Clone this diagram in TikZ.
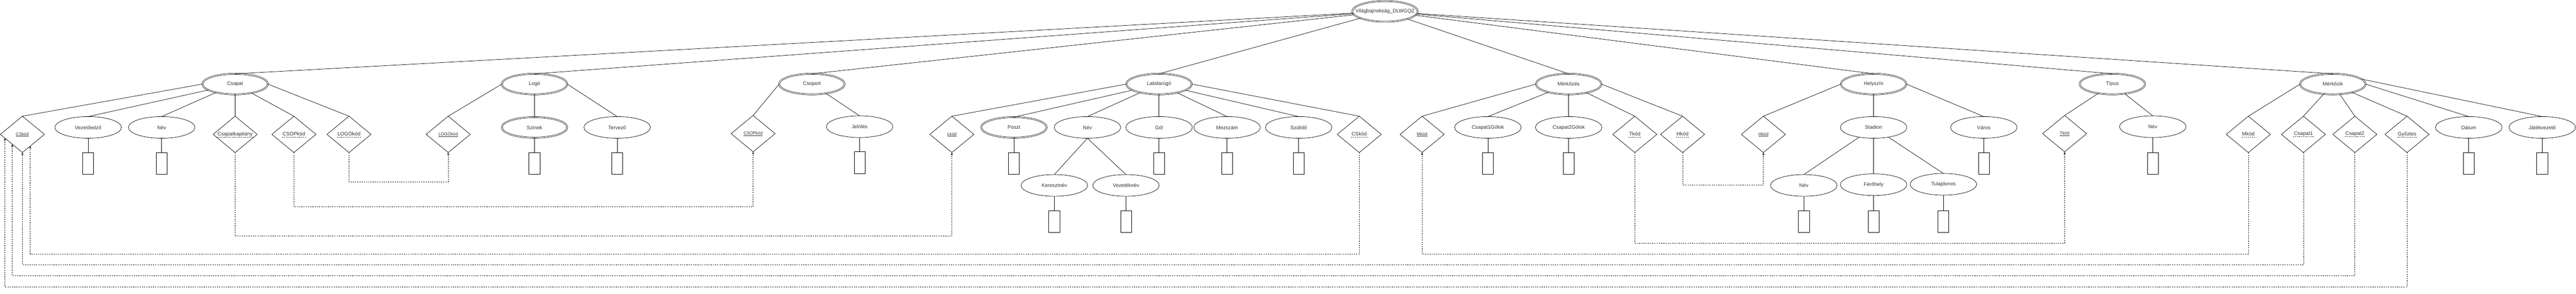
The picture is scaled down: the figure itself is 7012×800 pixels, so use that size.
\documentclass[tikz,border=0pt]{standalone}
\usepackage{fontspec}
\setmainfont{Liberation Sans}
\usetikzlibrary{shapes.geometric,arrows.meta}
\newcommand\zw[1]{\makebox[0pt]{#1}}
\newcommand\pk[1]{\makebox[0pt]{\fontsize{11.7}{14}\selectfont\underline{#1}}}
\newcommand\fk[1]{\makebox[0pt]{\setbox0=\hbox{#1}\kern-3pt\rlap{\raisebox{-4.5pt}{\hbox to \dimexpr\wd0+6pt\relax{\xleaders\hbox to 5pt{\hss\vrule width 3pt height 0.8pt depth 0pt\hss}\hfill}}}\kern3pt\box0}}
\tikzset{
  base/.style={draw, line width=1pt, inner sep=0pt, outer sep=0pt, font=\fontsize{13.8}{16}\selectfont, text=black!80},
  ent/.style={base, ellipse, minimum width=178, minimum height=56, double, double distance=2pt},
  attr/.style={base, ellipse, minimum width=181, minimum height=59},
  mattr/.style={base, ellipse, minimum width=178, minimum height=56, double, double distance=2pt},
  keyd/.style={base, diamond, minimum width=120, minimum height=99},
  fkd/.style={base, diamond, minimum width=120, minimum height=99},
  dom/.style={base, rectangle, minimum width=30, minimum height=59},
  link/.style={line width=1pt},
  fkline/.style={line width=1pt, dash pattern=on 3pt off 3pt, -{Stealth[length=7pt,width=5.5pt]}},
}
\begin{document}
\begin{tikzpicture}[x=1pt,y=-1pt]
\useasboundingbox[fill=white] (0,0) rectangle (7012,800);
% root
\node[ent] (root) at (3770,31) {\zw{Világbajnokság\_DLWGQZ}};
% entities
\node[ent] (csapat) at (640,229) {\zw{Csapat}};
\node[ent] (logo) at (1455,229) {\zw{Logó}};
\node[ent] (csoport) at (2210,229) {\zw{Csoport}};
\node[ent] (labda) at (3155,229) {\zw{Labdarúgó}};
\node[ent] (merk) at (4270,229) {\zw{Mérkőzés}};
\node[ent] (hely) at (5100,229) {\zw{Helyszín}};
\node[ent] (tipus) at (5750,229) {\zw{Típus}};
\node[ent] (merkozik) at (6350,229) {\zw{Mérkőzik}};
% Csapat
\node[keyd] (cskey) at (61,366) {\pk{CSkód}};
\node[attr] (vezedzo) at (240,347) {\zw{Vezetőedző}};
\node[attr] (nev1) at (440,347) {\zw{Név}};
\node[fkd] (kapitany) at (640,366) {\fk{Csapatkapitány}};
\node[fkd] (csopfk) at (800,366) {\fk{CSOPkód}};
\node[fkd] (logofk) at (950,366) {\fk{LOGÓkód}};
\node[dom] (dvezedzo) at (240,445.5) {};
\node[dom] (dnev1) at (440,445.5) {};
% Logo
\node[keyd] (logokey) at (1220,366) {\pk{LOGÓkód}};
\node[mattr] (szinek) at (1455,347) {\zw{Színek}};
\node[attr] (tervezo) at (1680,347) {\zw{Tervező}};
\node[dom] (dszinek) at (1455,445.5) {};
\node[dom] (dtervezo) at (1680,445.5) {};
% Csoport
\node[keyd] (csopkey) at (2050,364) {\pk{CSOPkód}};
\node[attr] (jeloles) at (2340,345) {\zw{Jelölés}};
\node[dom] (djeloles) at (2340,443) {};
% Labdarugo
\node[keyd] (lkod) at (2591,366) {\pk{Lkód}};
\node[mattr] (poszt) at (2760,347) {\zw{Poszt}};
\node[attr] (nev2) at (2960,347) {\zw{Név}};
\node[attr] (gol) at (3155,347) {\zw{Gól}};
\node[attr] (mezszam) at (3340,347) {\zw{Mezszám}};
\node[attr] (szulido) at (3535,347) {\zw{Szülidő}};
\node[fkd] (cskodfk) at (3700,366) {\fk{CSkód}};
\node[attr] (kereszt) at (2870,505) {\zw{Keresztnév}};
\node[attr] (vezetek) at (3065,505) {\zw{Vezetéknév}};
\node[dom] (dposzt) at (2760,445.5) {};
\node[dom] (dgol) at (3155,445.5) {};
\node[dom] (dmezszam) at (3340,445.5) {};
\node[dom] (dszulido) at (3535,445.5) {};
\node[dom] (dkereszt) at (2870,603.5) {};
\node[dom] (dvezetek) at (3065,603.5) {};
% Merkozes
\node[keyd] (mkey) at (3871,366) {\pk{Mkód}};
\node[attr] (c1g) at (4050,347) {\zw{Csapat1Gólok}};
\node[attr] (c2g) at (4270,347) {\zw{Csapat2Gólok}};
\node[fkd] (tkodfk) at (4450,366) {\fk{Tkód}};
\node[fkd] (hkodfk) at (4580,366) {\fk{Hkód}};
\node[dom] (dc1g) at (4050,445.5) {};
\node[dom] (dc2g) at (4270,445.5) {};
% Helyszin
\node[keyd] (hkey) at (4800,366) {\pk{Hkód}};
\node[attr] (stadion) at (5100,347) {\zw{Stadion}};
\node[attr] (varos) at (5400,347) {\zw{Város}};
\node[attr] (nev3) at (4910,505) {\zw{Név}};
\node[attr] (ferohely) at (5100,503) {\zw{Férőhely}};
\node[attr] (tulaj) at (5290,502) {\zw{Tulajdonos}};
\node[dom] (dvaros) at (5400,445.5) {};
\node[dom] (dnev3) at (4910,603.5) {};
\node[dom] (dferohely) at (5100,603.5) {};
\node[dom] (dtulaj) at (5290,603.5) {};
% Tipus
\node[keyd] (tkey) at (5620,364) {\pk{Tkód}};
\node[attr] (nev4) at (5860,345) {\zw{Név}};
\node[dom] (dnev4) at (5860,445.5) {};
% Merkozik
\node[fkd] (mkodfk) at (6120,366) {\fk{Mkód}};
\node[fkd] (cs1) at (6270,366) {\fk{Csapat1}};
\node[fkd] (cs2) at (6410,366) {\fk{Csapat2}};
\node[fkd] (gyoztes) at (6552,366) {\fk{Győztes}};
\node[attr] (datum) at (6720,347) {\zw{Dátum}};
\node[attr] (jatekv) at (6920,347) {\zw{Játékvezető}};
\node[dom] (ddatum) at (6720,445.5) {};
\node[dom] (djatekv) at (6920,445.5) {};
% levels
\coordinate (lv495) at (0,495);
\coordinate (lv504) at (0,504);
\coordinate (lv563) at (0,563);
\coordinate (lv643) at (0,643);
\coordinate (lv662) at (0,662);
\coordinate (lv692) at (0,692);
\coordinate (lv721) at (0,721);
\coordinate (lv751) at (0,751);
\coordinate (lv781) at (0,781);
% root links
\foreach \e in {csapat,logo,csoport,labda,merk,hely,tipus,merkozik}
  \draw[link] (root) -- (\e.north);
% entity links
\draw[link] (csapat.west) -- (cskey.north);
\draw[link] (csapat) -- (vezedzo.north);
\draw[link] (csapat) -- (nev1.north);
\draw[link] (csapat.south) -- (kapitany.north);
\draw[link] (csapat) -- (csopfk.north);
\draw[link] (csapat.east) -- (logofk.north);
\draw[link] (logo.west) -- (logokey.north);
\draw[link] (logo.south) -- (szinek.north);
\draw[link] (logo.east) -- (tervezo.north);
\draw[link] (csoport.west) -- (csopkey.north);
\draw[link] (csoport) -- (jeloles.north);
\draw[link] (labda.west) -- (lkod.north);
\draw[link] (labda) -- (poszt.north);
\draw[link] (labda) -- (nev2.north);
\draw[link] (labda.south) -- (gol.north);
\draw[link] (labda) -- (mezszam.north);
\draw[link] (labda) -- (szulido.north);
\draw[link] (labda.east) -- (cskodfk.north);
\draw[link] (nev2.south) -- (kereszt.north);
\draw[link] (nev2.south) -- (vezetek.north);
\draw[link] (merk.west) -- (mkey.north);
\draw[link] (merk) -- (c1g.north);
\draw[link] (merk.south) -- (c2g.north);
\draw[link] (merk) -- (tkodfk.north);
\draw[link] (merk.east) -- (hkodfk.north);
\draw[link] (hely.west) -- (hkey.north);
\draw[link] (hely.south) -- (stadion.north);
\draw[link] (hely.east) -- (varos.north);
\draw[link] (stadion) -- (nev3.north);
\draw[link] (stadion.south) -- (ferohely.north);
\draw[link] (stadion) -- (tulaj.north);
\draw[link] (tipus) -- (tkey.north);
\draw[link] (tipus) -- (nev4.north);
\draw[link] (merkozik.west) -- (mkodfk.north);
\draw[link] (merkozik) -- (cs1.north);
\draw[link] (merkozik) -- (cs2.north);
\draw[link] (merkozik) -- (gyoztes.north);
\draw[link] (merkozik.east) -- (datum.north);
\draw[link] (merkozik.10) -- (jatekv.north);
% attribute to domain
\foreach \a/\d in {vezedzo/dvezedzo,nev1/dnev1,szinek/dszinek,tervezo/dtervezo,jeloles/djeloles,poszt/dposzt,gol/dgol,mezszam/dmezszam,szulido/dszulido,kereszt/dkereszt,vezetek/dvezetek,c1g/dc1g,c2g/dc2g,varos/dvaros,nev3/dnev3,ferohely/dferohely,tulaj/dtulaj,nev4/dnev4,datum/ddatum,jatekv/djatekv}
  \draw[link] (\a.south) -- (\d.north);
% foreign keys
\draw[fkline] (logofk.south) -- (logofk.south |- lv495) -| (logokey.south);
\draw[fkline] (csopfk.south) -- (csopfk.south |- lv563) -| (csopkey.south);
\draw[fkline] (kapitany.south) -- (kapitany.south |- lv643) -| (lkod.south);
\draw[fkline] (cskodfk.south) -- (cskodfk.south |- lv692) -| (cskey.-56.9);
\draw[fkline] (cs1.south) -- (cs1.south |- lv721) -| (cskey.south);
\draw[fkline] (cs2.south) -- (cs2.south |- lv751) -| (cskey.-136.7);
\draw[fkline] (gyoztes.south) -- (gyoztes.south |- lv781) -| (cskey.-168.3);
\draw[fkline] (hkodfk.south) -- (hkodfk.south |- lv504) -| (hkey.south);
\draw[fkline] (tkodfk.south) -- (tkodfk.south |- lv662) -| (tkey.south);
\draw[fkline] (mkodfk.south) -- (mkodfk.south |- lv692) -| (mkey.south);
\end{tikzpicture}
\end{document}
